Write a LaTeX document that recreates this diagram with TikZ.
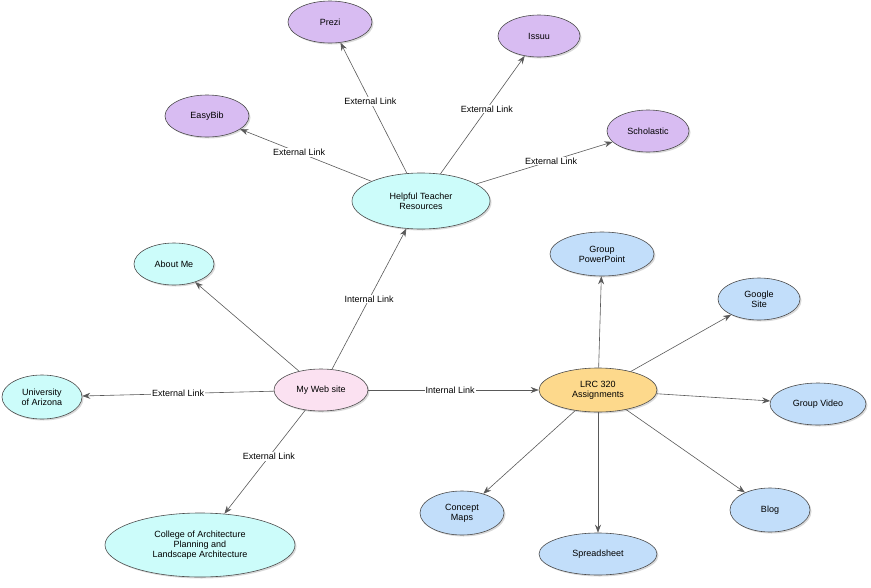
\documentclass[tikz,border=0pt]{standalone}
\usepackage{fontspec}
\setmainfont{Liberation Sans}
\usetikzlibrary{shapes.geometric,arrows.meta,shadows}
\definecolor{cpur}{HTML}{D8BCF2}
\definecolor{ccya}{HTML}{CCFCFA}
\definecolor{cblu}{HTML}{C2DEFA}
\definecolor{cpnk}{HTML}{FBE1F1}
\definecolor{corg}{HTML}{FDD98C}
\begin{document}
\begin{tikzpicture}[x=1pt,y=-1pt,
  el/.style={ellipse,draw=black!70,line width=0.6pt,font=\fontsize{9}{10}\selectfont,align=center,inner sep=0pt,drop shadow={shadow xshift=1.5pt,shadow yshift=-1.5pt,opacity=0.3}},
  pur/.style={el,fill=cpur},cya/.style={el,fill=ccya},blu/.style={el,fill=cblu},
  ed/.style={draw=black!65,line width=0.6pt,-{Stealth[length=8pt,width=6pt]}},
  lbl/.style={fill=white,inner sep=1pt,font=\fontsize{9}{10}\selectfont}]
\useasboundingbox (0,0) rectangle (871,587);
\node[pur,minimum width=84,minimum height=42] (prezi) at (330,22) {Prezi};
\node[pur,minimum width=82,minimum height=42] (issuu) at (539,36) {Issuu};
\node[pur,minimum width=84,minimum height=42] (easy) at (207,116) {EasyBib};
\node[pur,minimum width=82,minimum height=42] (scho) at (648,131) {Scholastic};
\node[cya,minimum width=138,minimum height=56] (help) at (421,201) {Helpful Teacher\\Resources};
\node[cya,minimum width=80,minimum height=42] (about) at (174,264) {About Me};
\node[blu,minimum width=104,minimum height=44] (gpp) at (602,254) {Group\\PowerPoint};
\node[blu,minimum width=82,minimum height=42] (gsite) at (759,299) {Google\\Site};
\node[cya,minimum width=80,minimum height=44] (ua) at (42,397) {University\\of Arizona};
\node[el,fill=cpnk,minimum width=94,minimum height=42] (web) at (321,390) {My Web site};
\node[el,fill=corg,minimum width=118,minimum height=44] (lrc) at (598,390) {LRC 320\\Assignments};
\node[blu,minimum width=96,minimum height=42] (gv) at (818,404) {Group Video};
\node[blu,minimum width=84,minimum height=44] (cm) at (462,513) {Concept\\Maps};
\node[blu,minimum width=80,minimum height=44] (blog) at (770,510) {Blog};
\node[blu,minimum width=118,minimum height=42] (ss) at (598,554) {Spreadsheet};
\node[cya,minimum width=190,minimum height=64] (col) at (200,545) {College of Architecture\\Planning and\\Landscape Architecture};
\draw[ed] (help) -- node[lbl,pos=0.55]{External Link} (prezi);
\draw[ed] (help) -- node[lbl,pos=0.55]{External Link} (issuu);
\draw[ed] (help) -- node[lbl,pos=0.55]{External Link} (easy);
\draw[ed] (help) -- node[lbl,pos=0.55]{External Link} (scho);
\draw[ed] (web) -- node[lbl,pos=0.5]{Internal Link} (help);
\draw[ed] (web) -- (about);
\draw[ed] (web) -- node[lbl,pos=0.5]{External Link} (ua);
\draw[ed] (web) -- node[lbl,pos=0.45]{External Link} (col);
\draw[ed] (web) -- node[lbl,pos=0.48]{Internal Link} (lrc);
\draw[ed] (lrc) -- (gpp);
\draw[ed] (lrc) -- (gsite);
\draw[ed] (lrc) -- (gv);
\draw[ed] (lrc) -- (blog);
\draw[ed] (lrc) -- (ss);
\draw[ed] (lrc) -- (cm);
\end{tikzpicture}
\end{document}
